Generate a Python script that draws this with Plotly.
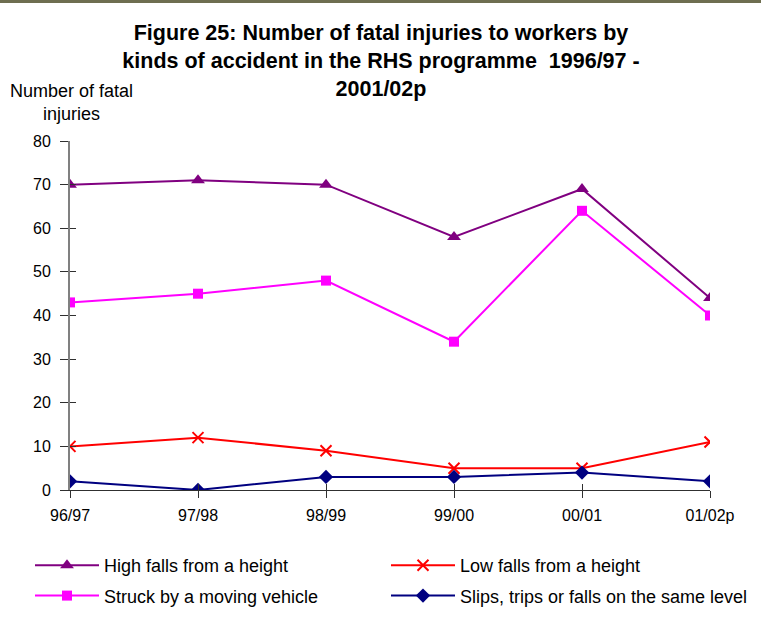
import plotly.graph_objects as go

categories = ["96/97", "97/98", "98/99", "99/00", "00/01", "01/02p"]
high_falls = [70, 71, 70, 58, 69, 44]
low_falls = [10, 12, 9, 5, 5, 11]
struck = [43, 45, 48, 34, 64, 40]
slips = [2, 0, 3, 3, 4, 2]
y_ticks = [0, 10, 20, 30, 40, 50, 60, 70, 80]

xs = list(range(len(categories)))

fig = go.Figure()
fig.add_trace(go.Scatter(x=xs, y=high_falls, name="High falls from a height", mode="lines+markers",
                         legend="legend", legendgroup="a", legendrank=1,
                         line=dict(color="#800080", width=2), marker=dict(symbol="triangle-up", size=12, color="#800080")))
fig.add_trace(go.Scatter(x=xs, y=low_falls, name="Low falls from a height", mode="lines+markers",
                         legend="legend2", legendgroup="c", legendrank=1,
                         line=dict(color="#ff0000", width=2), marker=dict(symbol="x-thin", size=11, color="#ff0000",
                                                                          line=dict(color="#ff0000", width=2))))
fig.add_trace(go.Scatter(x=xs, y=struck, name="Struck by a moving vehicle", mode="lines+markers",
                         legend="legend", legendgroup="b", legendrank=2,
                         line=dict(color="#ff00ff", width=2), marker=dict(symbol="square", size=10, color="#ff00ff")))
fig.add_trace(go.Scatter(x=xs, y=slips, name="Slips, trips or falls on the same level", mode="lines+markers",
                         legend="legend2", legendgroup="d", legendrank=2,
                         line=dict(color="#000080", width=2), marker=dict(symbol="diamond", size=11, color="#000080")))
# invisible helper trace so the overlay axes (inner half of the crossing ticks) are drawn
fig.add_trace(go.Scatter(x=[xs[0]], y=[y_ticks[0]], xaxis="x2", yaxis="y2", mode="markers",
                         marker=dict(opacity=0), showlegend=False, hoverinfo="skip"))

W, H = 761, 626

legend_common = dict(orientation="v", yanchor="top", y=(490 - 547) / 349, xanchor="left",
                     traceorder="grouped", tracegroupgap=4, itemwidth=64,
                     font=dict(size=18), bgcolor="rgba(0,0,0,0)")

fig.update_layout(
    width=W, height=H,
    margin=dict(l=70, r=51, t=141, b=136, autoexpand=False),
    paper_bgcolor="white", plot_bgcolor="white",
    font=dict(family="Liberation Sans, Arial", size=16, color="black"),
    title=dict(text="<b>Figure 25: Number of fatal injuries to workers by<br>kinds of accident in the RHS programme  1996/97 -<br>2001/02p</b>",
               x=381 / W, xanchor="center", yref="container", y=1 - 40 / H, yanchor="top",
               font=dict(family="Liberation Sans, Arial", size=21.5, color="black")),
    xaxis=dict(range=[0, 5], tickmode="array", tickvals=xs, ticktext=categories,
               showline=True, linecolor="#303030", linewidth=1, ticks="outside", ticklen=7,
               tickcolor="#303030", showgrid=False, zeroline=False, tickfont=dict(size=16),
               ticklabelstandoff=4),
    yaxis=dict(range=[0, 80], tickmode="array", tickvals=y_ticks,
               showline=True, linecolor="#808080", linewidth=2, ticks="outside", ticklen=8,
               tickcolor="#303030", showgrid=False, zeroline=False, tickfont=dict(size=16),
               ticklabelstandoff=6),
    xaxis2=dict(overlaying="x", anchor="y2", range=[0, 5], tickmode="array", tickvals=xs,
                showticklabels=False, ticks="inside", ticklen=6, tickcolor="#303030",
                showline=False, showgrid=False, zeroline=False),
    yaxis2=dict(overlaying="y", anchor="x2", range=[0, 80], tickmode="array", tickvals=y_ticks,
                showticklabels=False, ticks="inside", ticklen=6, tickcolor="#303030",
                showline=False, showgrid=False, zeroline=False),
    showlegend=True,
    legend=dict(x=(30 - 70) / 640, **legend_common),
    legend2=dict(x=(386 - 70) / 640, **legend_common),
)

fig.add_annotation(text="Number of fatal<br>injuries", xref="paper", yref="paper",
                   x=(71 - 70) / 640, y=(490 - 79) / 349, xanchor="center", yanchor="top",
                   showarrow=False, align="center", font=dict(size=18))

fig.add_shape(type="line", xref="paper", yref="paper", layer="above",
              x0=-70 / 640, x1=(761 - 70) / 640, y0=(490 - 1.5) / 349, y1=(490 - 1.5) / 349,
              line=dict(color="#6e6e50", width=3))

fig.write_html("out.html", config={"displayModeBar": False},
               post_script="document.body.style.margin='0';")
